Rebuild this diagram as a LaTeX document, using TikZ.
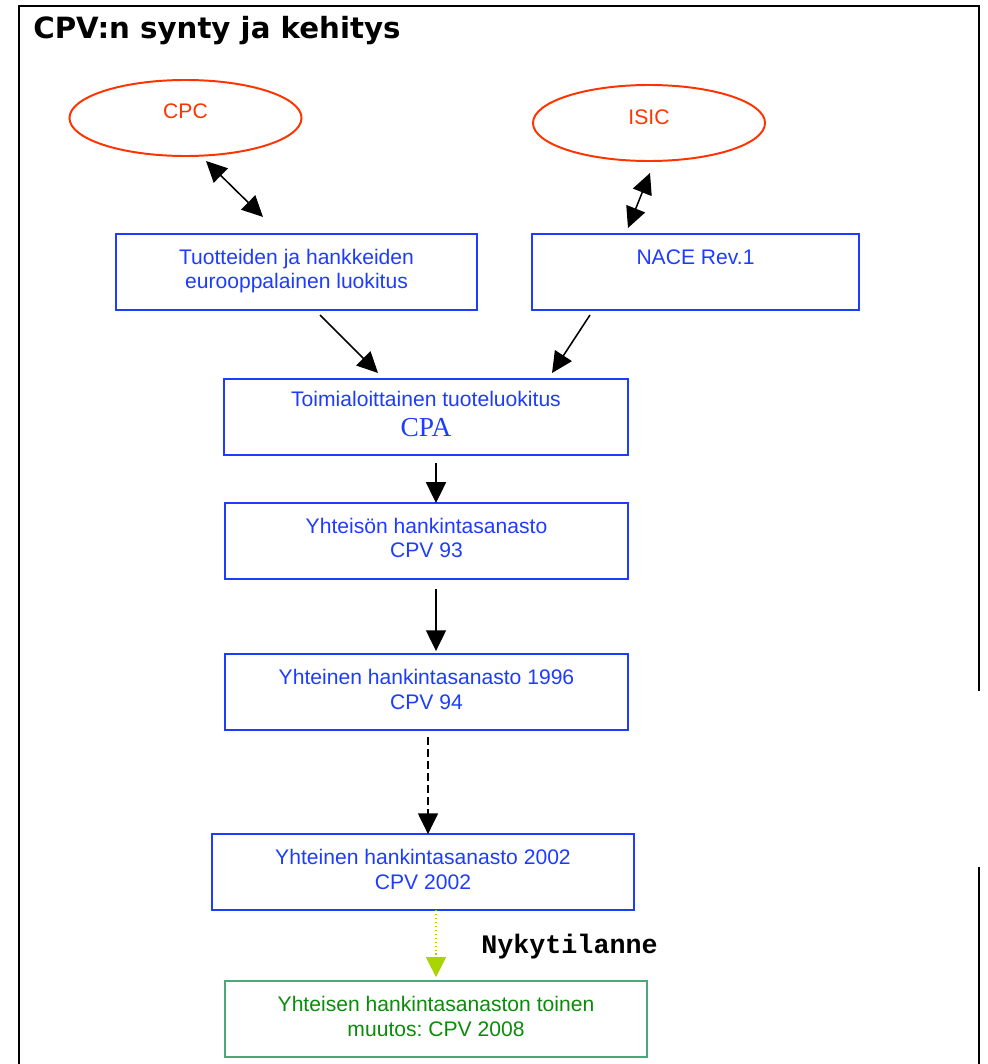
\documentclass[tikz,border=0pt]{standalone}
\usepackage{fontspec}
\setmainfont{Liberation Sans}
\newfontfamily\otsikkofont{DejaVu Sans}
\newfontfamily\cpafont{Liberation Serif}
\newfontfamily\nykyfont{Liberation Mono}
\usepackage{xcolor}
\usepackage{tikz}
\usetikzlibrary{arrows.meta, positioning, shapes.geometric}
\definecolor{boxblue}{RGB}{30,60,255}
\definecolor{cpvred}{RGB}{255,51,0}
\definecolor{newline}{RGB}{76,168,120}
\definecolor{newtext}{RGB}{10,140,10}
\definecolor{nowgreen}{RGB}{170,212,0}
\frenchspacing

\begin{document}
\begin{tikzpicture}[
x=0.025cm, y=-0.025cm,
node distance=1.2cm,
every node/.style={font=\fontsize{15}{17.5}\selectfont},
box/.style={
    draw=boxblue, line width=1.3pt, text=boxblue, align=center,
    minimum width=10.075cm, minimum height=1.9cm,
    text depth=0.15cm, outer sep=0pt
},
newbox/.style={box, draw=newline, text=newtext},
source/.style={
    ellipse, draw=cpvred, line width=1.4pt, text=cpvred, inner sep=0pt,
    minimum width=5.8cm, minimum height=1.9cm, text depth=0.35cm
},
arrow/.style={-{Triangle[length=0.52cm, width=0.5cm]}, line width=1.1pt},
twoway/.style={{Triangle[length=0.52cm, width=0.5cm]}-{Triangle[length=0.52cm, width=0.5cm]}, line width=1.1pt},
nowarrow/.style={-{Triangle[length=0.5cm, width=0.5cm]}, draw=nowgreen, line width=0.8pt, dotted},
frame/.style={line width=1.8pt}
]

\useasboundingbox (0,0) rectangle (987,1064);

% kehys, oikea reuna katkeaa
\draw [frame] (19,1064) -- (19,6) -- (979,6) -- (979,691);
\draw [frame] (979,867) -- (979,1064);

\node (otsikko) [anchor=base west, inner sep=0pt, font=\otsikkofont\bfseries\fontsize{20.8}{24}\selectfont] at (33,39) {CPV:n synty ja kehitys};

\node (cpc) [source] at (185.5,118) {CPC};
\node (isic) [source, text depth=0.28cm] at (649,123) {ISIC};

\node (tuote) [box, minimum width=9.025cm] at (296.5,272) {Tuotteiden ja hankkeiden\\eurooppalainen luokitus};
\node (nace) [box, minimum width=8.175cm] at (695.5,272) {NACE Rev.1\\~};

\node (cpa) [box, minimum width=10.1cm] at (426,417) {Toimialoittainen tuoteluokitus\\[3.5pt]{\cpafont\fontsize{19.5}{20}\selectfont CPA}};
\node (cpv93) [box, below=1.2cm of cpa, xshift=0.0125cm] {Yhteisön hankintasanasto\\CPV 93};
\node (cpv94) [box, below=1.875cm of cpv93] {Yhteinen hankintasanasto 1996\\CPV 94};
\node (cpv2002) [box, below=2.6cm of cpv94, xshift=-0.0875cm, minimum width=10.55cm] {Yhteinen hankintasanasto 2002\\CPV 2002};
\node (cpv2008) [newbox, below=1.775cm of cpv2002, xshift=0.325cm, minimum width=10.55cm] {Yhteisen hankintasanaston toinen\\muutos: CPV 2008};

\node (nyky) [anchor=base west, inner sep=0pt, font=\nykyfont\bfseries\fontsize{19}{22}\selectfont] at (481,953) {Nykytilanne};

\draw[twoway] ([xshift=0.5125cm, yshift=-0.1cm]cpc.south) -- ([xshift=-0.8375cm, yshift=0.425cm]tuote.north);
\draw[twoway] ([xshift=0.025cm, yshift=-0.275cm]isic.south) -- ([xshift=-1.6875cm, yshift=0.15cm]nace.north);

\draw[arrow] ([xshift=0.5875cm, yshift=-0.125cm]tuote.south) -- ([xshift=-1.2cm, yshift=0.15cm]cpa.north);
\draw[arrow] ([xshift=-2.6375cm, yshift=-0.125cm]nace.south) -- ([xshift=3.15cm, yshift=0.15cm]cpa.north);

\draw[arrow] ([xshift=0.25cm, yshift=-0.2cm]cpa.south) -- ([xshift=0.2375cm]cpv93.north);
\draw[arrow] ([xshift=0.2375cm, yshift=-0.25cm]cpv93.south) -- ([xshift=0.2375cm, yshift=0.075cm]cpv94.north);
\draw[arrow, dash pattern=on 0.2cm off 0.1cm] ([xshift=0.0375cm, yshift=-0.175cm]cpv94.south) -- ([xshift=0.125cm]cpv2002.north);
\draw[nowarrow] ([xshift=0.325cm]cpv2002.south) -- ([yshift=0.1cm]cpv2008.north);

\end{tikzpicture}
\end{document}
